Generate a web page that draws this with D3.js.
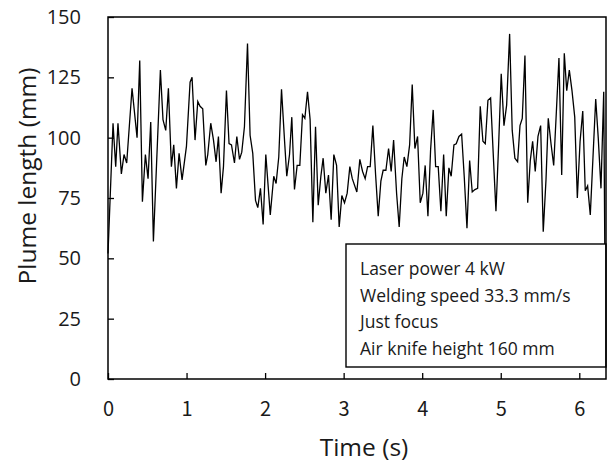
<!DOCTYPE html>
<html lang="en">
  <head>
    <meta charset="utf-8">
    <style>
      body { margin: 0; background: #fff; }
      .line { fill: none; stroke: #000; stroke-width: 1.3px; }
      .ylab { font-family: "Open Sans", sans-serif; font-size: 20px; }
      .xlab { font-family: "Noto Sans CJK JP", sans-serif; font-size: 20px; }
    </style>
    <script src="https://d3js.org/d3.v7.min.js"></script>
  </head>
  <body>
    <svg width="608" height="464"></svg>
    <script>
      // sample times (s)
      var times = [0, 0.064, 0.098, 0.127, 0.17, 0.204, 0.238, 0.306, 0.37, 0.404,
        0.438, 0.476, 0.51, 0.544, 0.578, 0.667, 0.70, 0.735, 0.769, 0.807,
        0.837, 0.871, 0.905, 0.943, 0.999, 1.045, 1.07, 1.108, 1.143, 1.172,
        1.206, 1.245, 1.27, 1.308, 1.343, 1.376, 1.406, 1.44, 1.47, 1.508,
        1.541, 1.572, 1.61, 1.64, 1.674, 1.703, 1.737, 1.776, 1.809, 1.843,
        1.878, 1.907, 1.941, 1.975, 2.009, 2.066, 2.11, 2.14, 2.174, 2.209,
        2.247, 2.276, 2.311, 2.34, 2.374, 2.408, 2.442, 2.476, 2.506, 2.54,
        2.573, 2.608, 2.642, 2.676, 2.71, 2.739, 2.773, 2.807, 2.841, 2.875,
        2.91, 2.943, 2.977, 3.011, 3.045, 3.079, 3.11, 3.168, 3.206, 3.241,
        3.274, 3.305, 3.338, 3.372, 3.407, 3.44, 3.474, 3.503, 3.538, 3.572,
        3.605, 3.636, 3.674, 3.707, 3.741, 3.771, 3.805, 3.84, 3.873, 3.907,
        3.941, 3.975, 4.009, 4.038, 4.073, 4.107, 4.14, 4.171, 4.204, 4.238,
        4.273, 4.306, 4.34, 4.369, 4.404, 4.433, 4.468, 4.502, 4.535, 4.57,
        4.604, 4.637, 4.671, 4.706, 4.739, 4.773, 4.803, 4.837, 4.871, 4.904,
        4.939, 4.973, 5.006, 5.041, 5.075, 5.113, 5.146, 5.18, 5.215, 5.245,
        5.274, 5.308, 5.343, 5.376, 5.406, 5.439, 5.474, 5.508, 5.541, 5.576,
        5.605, 5.64, 5.674, 5.707, 5.741, 5.776, 5.809, 5.84, 5.873, 5.907,
        5.942, 5.975, 6.01, 6.044, 6.076, 6.106, 6.14, 6.209, 6.242, 6.276,
        6.311, 6.33];

      // plume length (mm)
      var plumeLength = [52, 106, 88, 106, 85, 93, 89.5, 120.5, 100, 132,
        73.5, 93, 83, 106.5, 57, 128, 107.5, 103, 120.5, 88,
        97, 79, 93.5, 82.5, 96.5, 123, 125, 99, 115, 113,
        112, 88.5, 93, 106, 99, 90, 100.5, 77, 88, 119.5,
        97.5, 97, 89.5, 100.5, 91, 94, 104.5, 139, 101, 93.5,
        74, 71, 79, 64, 93, 68, 84, 81, 92, 120,
        99, 84, 93, 108.5, 78.5, 88.5, 88.5, 109.5, 108, 119,
        107.5, 65, 104.5, 72, 84, 91.5, 77, 84.5, 66, 93,
        88.5, 63, 76, 73, 77, 88, 83, 77.5, 91, 86,
        83, 88, 88, 105, 84.5, 67.5, 82, 86.5, 86.5, 95.5,
        86, 99, 77, 63, 83, 92, 88, 97, 122, 95.5,
        100.5, 73, 77, 88.5, 67.5, 95, 111.5, 88, 88, 69.5,
        93, 67.5, 87.5, 84, 97, 97.5, 100.5, 101.5, 84, 62.5,
        90.5, 77.5, 78.5, 79, 113, 98.5, 97.5, 115.5, 116.5, 93.5,
        69.5, 97, 126.5, 105, 113.5, 143, 103, 91.5, 90, 105,
        108, 134, 73, 90.5, 98.5, 86, 100.5, 105, 61, 82.5,
        108, 97.5, 88.5, 110, 133, 84.5, 135, 119.5, 128, 119.5,
        108.5, 75, 98.5, 111, 78, 80, 68, 116, 99.5, 79,
        119, 30];

      var xTicks = [0, 1, 2, 3, 4, 5, 6];
      var yTicks = [0, 25, 50, 75, 100, 125, 150];
      var legendLines = ["Laser power 4 kW", "Welding speed 33.3 mm/s",
        "Just focus", "Air knife height 160 mm"];

      var svg = d3.select("svg");
      var plotLeft = 108, plotTop = 17, plotRight = 606, plotBottom = 379;

      var x = d3.scaleLinear().domain([0, 6.34]).range([plotLeft, plotRight]);
      var y = d3.scaleLinear().domain([0, 150]).range([plotBottom, plotTop]);

      var data = times.map(function (t, i) {
        return { t: t, v: plumeLength[i] };
      });

      // the trace
      var line = d3.line()
        .x(function (d) { return x(d.t); })
        .y(function (d) { return y(d.v); });
      svg.append("path").datum(data).attr("class", "line").attr("d", line);

      // axes, ticks pointing inward
      var gy = svg.append("g")
        .attr("transform", "translate(" + plotLeft + ",0)")
        .call(d3.axisLeft(y).tickValues(yTicks).tickSize(-6).tickPadding(27));
      gy.selectAll("text").attr("class", "ylab").attr("fill", "#1a1a1a");

      var gx = svg.append("g")
        .attr("transform", "translate(0," + plotBottom + ")")
        .call(d3.axisBottom(x).tickValues(xTicks).tickFormat(d3.format("d"))
          .tickSize(-6).tickPadding(23));
      gx.selectAll("text").attr("class", "xlab").attr("fill", "#1a1a1a");

      svg.selectAll(".domain").remove();
      svg.selectAll(".tick line").attr("stroke", "#000").attr("stroke-width", 1.3);

      // legend box
      var lg = svg.append("g");
      lg.append("rect")
        .attr("x", 346).attr("y", 244)
        .attr("width", plotRight - 346).attr("height", 367 - 244)
        .attr("fill", "#fff").attr("stroke", "#000").attr("stroke-width", 1.4);
      lg.selectAll("text")
        .data(legendLines)
        .enter()
        .append("text")
        .attr("x", 360)
        .attr("y", function (d, i) { return 275 + i * 26.5; })
        .attr("font-family", "Open Sans, sans-serif")
        .attr("font-size", "17.5px")
        .attr("fill", "#1a1a1a")
        .text(function (d) { return d; });

      // frame
      svg.append("rect")
        .attr("x", plotLeft).attr("y", plotTop)
        .attr("width", plotRight - plotLeft).attr("height", plotBottom - plotTop)
        .attr("fill", "none").attr("stroke", "#000").attr("stroke-width", 1.5);

      // axis titles
      svg.append("text")
        .attr("transform", "translate(36,176) rotate(-90)")
        .attr("text-anchor", "middle")
        .attr("font-family", "Open Sans, sans-serif")
        .attr("font-size", "24.5px")
        .attr("fill", "#1a1a1a")
        .text("Plume length (mm)");

      svg.append("text")
        .attr("x", 364).attr("y", 456)
        .attr("text-anchor", "middle")
        .attr("font-family", "Open Sans, sans-serif")
        .attr("font-size", "24.5px")
        .attr("fill", "#1a1a1a")
        .text("Time (s)");
    </script>
  </body>
</html>
